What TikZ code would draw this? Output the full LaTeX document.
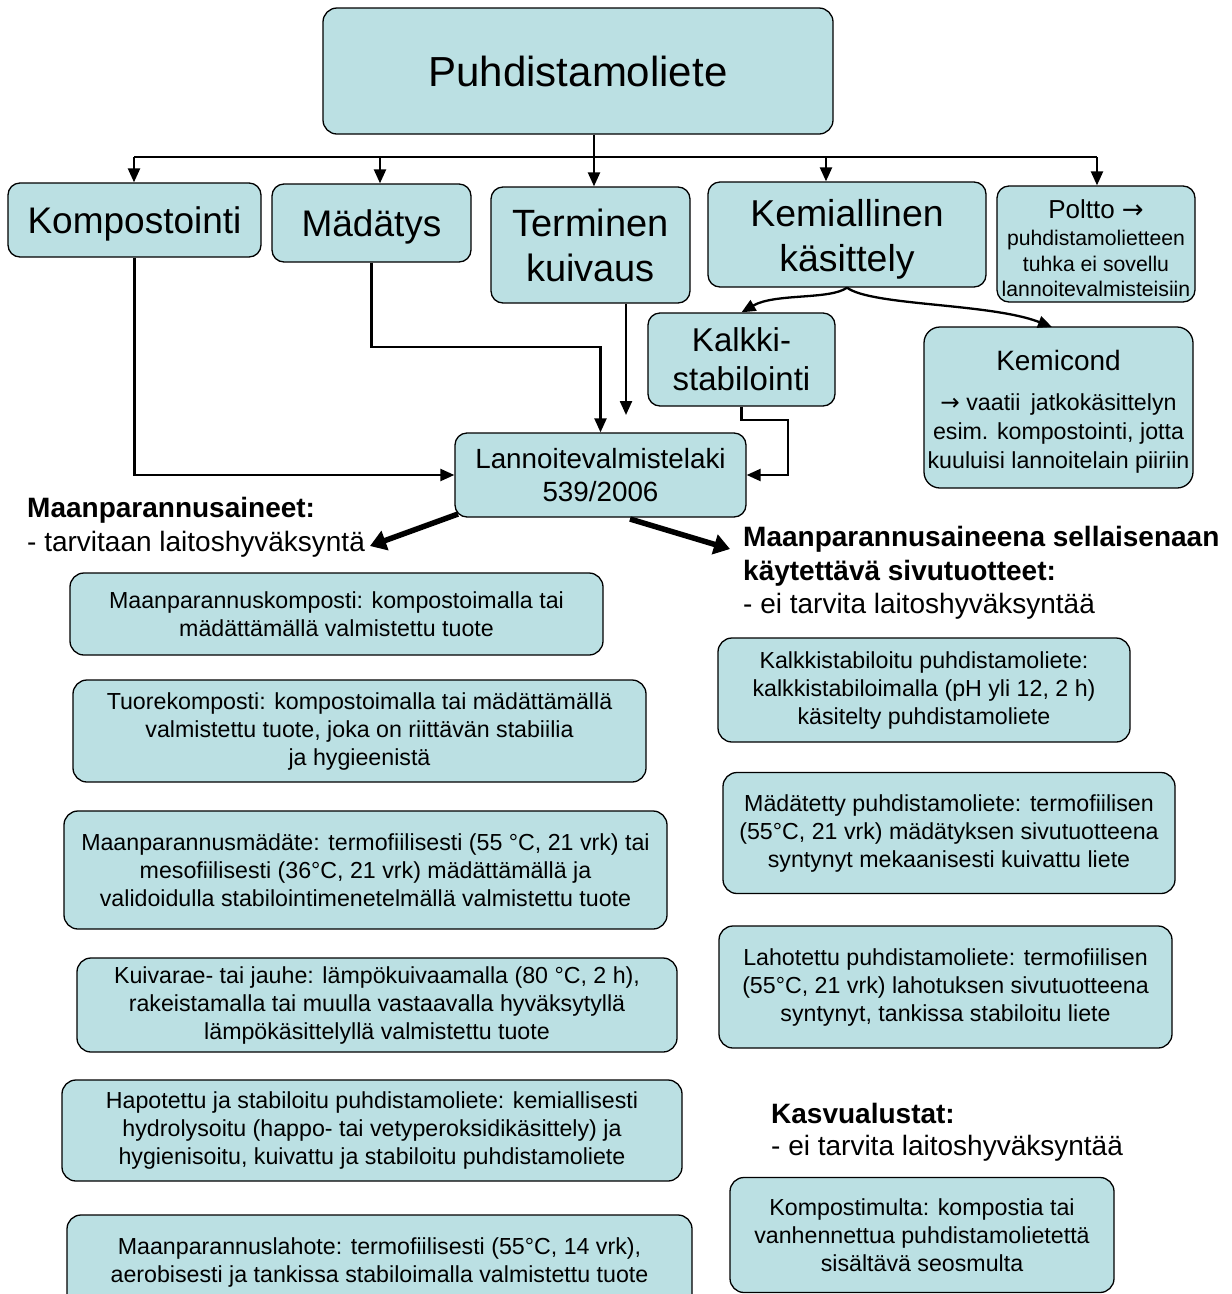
\documentclass[tikz,border=0pt]{standalone}
\usepackage{fontspec}
\setmainfont{Liberation Sans}
\newfontfamily\arrowfont{DejaVu Sans}
\usetikzlibrary{arrows.meta}
\definecolor{boxfill}{RGB}{187,224,227}
\newcommand\fsz[2]{\fontsize{#1}{#2}\selectfont}
\newcommand\topstrut[1]{\rule{0pt}{#1}}

\begin{document}
\begin{tikzpicture}[x=1pt,y=-1pt,
  box/.style={draw, fill=boxfill, rounded corners=14pt, line width=1.3pt,
              align=center, inner sep=0pt},
  conn/.style={line width=2.3pt, -{Triangle[length=14pt,width=12pt]}},
  bigarrow/.style={line width=5.5pt, -{Triangle[length=16pt,width=20pt]}},
  head/.style={anchor=west, inner sep=0pt, font=\bfseries\fsz{28}{32}},
  sub/.style={anchor=west, inner sep=0pt, font=\fsz{28}{32}},
  small/.style={font=\fsz{23.2}{28}}
]
\useasboundingbox (0,0) rectangle (1232,1294);

% --- source and treatment methods
\node[box, minimum width=510pt, minimum height=126pt, font=\fsz{42}{48}] (top) at (578,71) {Puhdistamoliete};

\node[box, rounded corners=12pt, minimum width=253pt, minimum height=74pt, font=\fsz{37}{45}] (komp) at (134.5,220) {\topstrut{35pt}Kompostointi};
\node[box, rounded corners=12pt, minimum width=199pt, minimum height=78pt, font=\fsz{37}{45}] (madat) at (371.5,223) {\topstrut{35pt}Mädätys};
\node[box, rounded corners=12pt, minimum width=199pt, minimum height=116pt, font=\fsz{38}{45}] (term) at (590.5,245) {Terminen\\kuivaus};
\node[box, rounded corners=12pt, minimum width=278pt, minimum height=105pt, font=\fsz{37.4}{45}] (kemi) at (847,234.5) {\topstrut{37pt}Kemiallinen\\käsittely};
\node[box, rounded corners=12pt, minimum width=198pt, minimum height=116pt, font=\fsz{21.2}{25.5}] (poltto) at (1096,244)
  {{\fsz{26}{30}\topstrut{27pt}Poltto {\arrowfont→}}\\[2pt]puhdistamolietteen\\tuhka ei sovellu\\lannoitevalmisteisiin};

\node[box, rounded corners=12pt, minimum width=187pt, minimum height=93pt, font=\fsz{33}{39}] (kalkki) at (741.5,359.5) {Kalkki-\\stabilointi};
\node[box, rounded corners=16pt, minimum width=269pt, minimum height=161pt, font=\fsz{23.2}{29}] (kemicond) at (1058.5,407.5)
  {{\fsz{28}{32}\topstrut{28.5pt}Kemicond}\\[11pt]{\arrowfont→} vaatii\, jatkokäsittelyn\\esim. kompostointi, jotta\\kuuluisi lannoitelain piiriin};

\node[box, rounded corners=12pt, minimum width=291pt, minimum height=84pt, font=\fsz{27.8}{33}] (lann) at (600.5,475) {Lannoitevalmistelaki\\539/2006};

% --- connectors from the source
\coordinate (bus) at (594,157);
\draw[line width=2.3pt] (top.south -| bus) -- (bus);
\draw[line width=2.3pt] (134,157) -- (1097,157);
\draw[conn] (134,157) -- (komp.north -| 134,0);
\draw[conn] (380,157) -- (madat.north -| 380,0);
\draw[conn] (bus) -- (term.north -| bus);
\draw[conn] (826,157) -- (kemi.north -| 826,0);
\draw[conn] (1097,157) -- (poltto.north -| 1097,0);

% --- chemical treatment branches
\draw[conn] (kemi.south) .. controls (830,300) and (775,293) .. (kalkki.north);
\draw[conn] (kemi.south) .. controls (872,306) and (990,303) .. (1052,327);

% --- routes to the fertiliser act
\draw[conn] (komp.south) |- (lann.west);
\draw[conn] (madat.south) -- (madat.south |- 0,347) -| (lann.north);
\coordinate (termend) at (626,415);
\draw[conn] (term.south -| termend) -- (termend);
\draw[conn] (kalkki.south) |- (788,420) |- (lann.east);

% --- product groups
\coordinate (leftend) at (370,546);
\coordinate (rightend) at (730,549);
\draw[bigarrow] (458,514) -- (leftend);
\draw[bigarrow] (630,519) -- (rightend);

\node[head] (h1) at (27,510) {Maanparannusaineet:};
\node[sub] (s1) at (27,544) {- tarvitaan laitoshyväksyntä};
\node[head] (h2a) at (743,539) {Maanparannusaineena sellaisenaan};
\node[head] (h2b) at (743,573) {käytettävä sivutuotteet:};
\node[sub] (s2) at (743,606) {- ei tarvita laitoshyväksyntää};
\node[head] (h3) at (771,1113) {Kasvualustat:};
\node[sub] (s3) at (771,1148) {- ei tarvita laitoshyväksyntää};

% --- soil improvers
\node[box, small, minimum width=533pt, minimum height=82pt] (l1) at (336.5,614)
  {Maanparannuskomposti: kompostoimalla tai\\mädättämällä valmistettu tuote};
\node[box, small, minimum width=573pt, minimum height=102pt] (l2) at (359.5,731)
  {Tuorekomposti: kompostoimalla tai mädättämällä\\valmistettu tuote, joka on riittävän stabiilia\\ja hygieenistä};
\node[box, small, minimum width=603pt, minimum height=118pt] (l3) at (365.5,870)
  {Maanparannusmädäte: termofiilisesti (55 °C, 21 vrk) tai\\mesofiilisesti (36°C, 21 vrk) mädättämällä ja\\validoidulla stabilointimenetelmällä valmistettu tuote};
\node[box, small, minimum width=600pt, minimum height=94pt] (l4) at (377,1005)
  {Kuivarae- tai jauhe: lämpökuivaamalla (80 °C, 2 h),\\rakeistamalla tai muulla vastaavalla hyväksytyllä\\lämpökäsittelyllä valmistettu tuote};
\node[box, small, minimum width=620pt, minimum height=101pt] (l5) at (372,1130.5)
  {Hapotettu ja stabiloitu puhdistamoliete: kemiallisesti\\hydrolysoitu (happo- tai vetyperoksidikäsittely) ja\\hygienisoitu, kuivattu ja stabiloitu puhdistamoliete};
\node[box, small, minimum width=625pt, minimum height=94pt] (l6) at (379.5,1262)
  {Maanparannuslahote: termofiilisesti (55°C, 14 vrk),\\aerobisesti ja tankissa stabiloimalla valmistettu tuote};

% --- by-products and growing media
\node[box, small, minimum width=412pt, minimum height=104pt] (r1) at (924,690)
  {Kalkkistabiloitu puhdistamoliete:\\kalkkistabiloimalla (pH yli 12, 2 h)\\käsitelty puhdistamoliete};
\node[box, small, minimum width=452pt, minimum height=121pt] (r2) at (949,833)
  {Mädätetty puhdistamoliete: termofiilisen\\(55°C, 21 vrk) mädätyksen sivutuotteena\\syntynyt mekaanisesti kuivattu liete};
\node[box, small, minimum width=453pt, minimum height=122pt] (r3) at (945.5,987)
  {Lahotettu puhdistamoliete: termofiilisen\\(55°C, 21 vrk) lahotuksen sivutuotteena\\syntynyt, tankissa stabiloitu liete};
\node[box, small, minimum width=384pt, minimum height=115pt] (r4) at (922,1235)
  {Kompostimulta: kompostia tai\\vanhennettua puhdistamolietettä\\sisältävä seosmulta};
\end{tikzpicture}
\end{document}
